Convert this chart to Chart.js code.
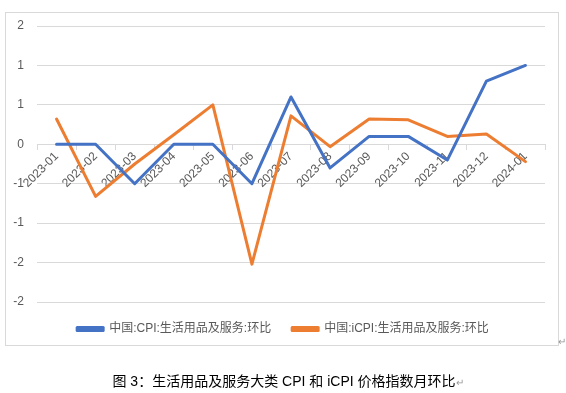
<!DOCTYPE html>
<html>
<head>
<meta charset="utf-8">
<script src="https://cdn.jsdelivr.net/npm/chart.js@4/dist/chart.umd.min.js"></script>
<style>
  body { margin: 0; background: #fff; width: 566px; height: 393px; position: relative; overflow: hidden; }
  #frame { position: absolute; left: 5px; top: 12px; width: 552px; height: 332px; border: 1px solid #d9d9d9; }
  #wrap { position: absolute; left: 0; top: 0; width: 566px; height: 393px; }
  #caption { position: absolute; left: 5px; top: 370px; width: 566px; text-align: center;
    font: 14px 'Liberation Sans', 'Noto Sans CJK SC', sans-serif; color: #000; }
  .mark { color: #999; font-size: 10px; }
  #mark2 { position: absolute; left: 558px; top: 336px; }
</style>
</head>
<body>
<div id="frame"></div>
<div id="wrap"><canvas id="chart" width="566" height="393"></canvas></div>
<span id="mark2" class="mark">↵</span>
<div id="caption">图 3：生活用品及服务大类 CPI 和 iCPI 价格指数月环比<span class="mark">↵</span></div>
<script>
// months on the category axis
const categories = ['2023-01', '2023-02', '2023-03', '2023-04', '2023-05', '2023-06', '2023-07',
    '2023-08', '2023-09', '2023-10', '2023-11', '2023-12', '2024-01'];

// 中国:CPI:生活用品及服务:环比
const cpiMoM = [0, 0, -0.5, 0, 0, -0.5, 0.6, -0.3, 0.1, 0.1, -0.2, 0.8, 1.0];
// 中国:iCPI:生活用品及服务:环比
const icpiMoM = [0.32, -0.66, -0.25, 0.12, 0.5, -1.52, 0.36, -0.03, 0.32, 0.31, 0.1, 0.13, -0.22];

// y ticks are shown rounded to whole numbers, like the original
const yTickValues = [1.5, 1, 0.5, 0, -0.5, -1, -1.5, -2];
const yTickLabels = ['2', '1', '1', '0', '-1', '-1', '-2', '-2'];

const fontFamily = "'Liberation Sans', 'Noto Sans CJK SC', sans-serif";
const gridColor = '#d9d9d9';
const textColor = '#595959';

new Chart(document.getElementById('chart'), {
    type: 'line',
    data: {
        labels: categories,
        datasets: [{
            label: '中国:CPI:生活用品及服务:环比',
            data: cpiMoM,
            borderColor: '#4472c4',
            backgroundColor: '#4472c4',
            borderWidth: 3,
            pointRadius: 0,
            borderJoinStyle: 'round',
            borderCapStyle: 'round',
            tension: 0
        }, {
            label: '中国:iCPI:生活用品及服务:环比',
            data: icpiMoM,
            borderColor: '#ed7d31',
            backgroundColor: '#ed7d31',
            borderWidth: 3,
            pointRadius: 0,
            borderJoinStyle: 'round',
            borderCapStyle: 'round',
            tension: 0
        }]
    },
    options: {
        responsive: false,
        animation: false,
        layout: { padding: { top: 26, right: 0, bottom: 48, left: 0 } },
        plugins: {
            tooltip: { enabled: false },
            legend: {
                position: 'bottom',
                labels: {
                    boxWidth: 26,
                    boxHeight: 3,
                    padding: 21,
                    color: textColor,
                    font: { family: fontFamily, size: 12 }
                }
            }
        },
        scales: {
            x: {
                type: 'category',
                position: { y: 0 },
                offset: true,
                grid: {
                    offset: true,
                    drawOnChartArea: false,
                    color: gridColor,
                    tickLength: 5
                },
                border: { color: gridColor },
                ticks: {
                    minRotation: 45,
                    maxRotation: 45,
                    autoSkip: false,
                    padding: 0,
                    color: textColor,
                    font: { family: fontFamily, size: 12 }
                }
            },
            y: {
                min: -2,
                max: 1.5,
                afterFit: (scale) => { scale.width = 37; },
                grid: { color: gridColor, drawTicks: false },
                border: { display: false },
                ticks: {
                    stepSize: 0.5,
                    padding: 13,
                    color: textColor,
                    font: { family: fontFamily, size: 12 },
                    callback: (v) => yTickLabels[yTickValues.indexOf(v)]
                }
            },
            // empty right axis: only reserves the right margin so the legend stays centred
            yRight: {
                position: 'right',
                afterFit: (scale) => { scale.width = 21; },
                grid: { display: false },
                border: { display: false },
                ticks: { display: false }
            }
        }
    }
});
</script>
</body>
</html>
